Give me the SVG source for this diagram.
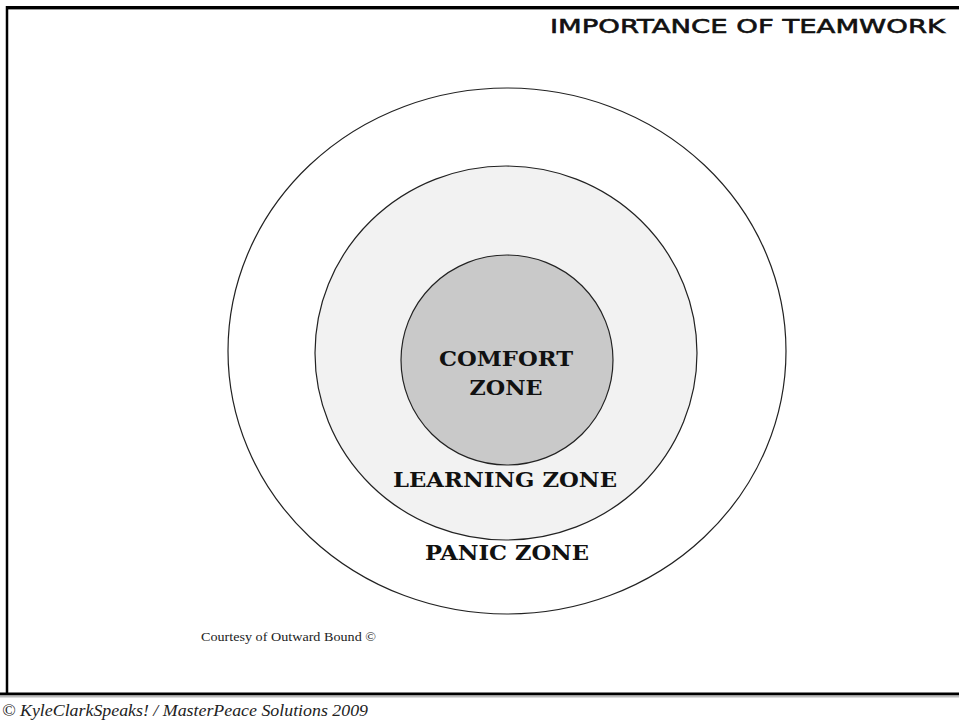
<svg xmlns="http://www.w3.org/2000/svg" width="959" height="723" viewBox="0 0 959 723">
<style>
.ring{stroke:#222;stroke-width:1.2}
.zone{font-family:"DejaVu Serif","Liberation Serif",serif;font-weight:bold;font-size:21px;fill:#111;text-anchor:middle}
.title{font-family:"DejaVu Sans","Liberation Sans",sans-serif;font-weight:normal;font-size:20px;fill:#111;stroke:#111;stroke-width:0.6}
.small{font-family:"Liberation Serif","DejaVu Serif",serif;fill:#222}
</style>
<rect width="959" height="723" fill="#fff"/>
<g id="frame">
<line x1="7" y1="7.5" x2="959" y2="7.5" stroke="#000" stroke-width="3"/>
<line x1="7" y1="9.5" x2="959" y2="9.5" stroke="#999" stroke-width="1"/>
<line x1="7" y1="6" x2="7" y2="695" stroke="#000" stroke-width="2.5"/>
<line x1="0" y1="694" x2="959" y2="694" stroke="#000" stroke-width="3"/>
<line x1="0" y1="696.5" x2="959" y2="696.5" stroke="#bbb" stroke-width="2"/>
</g>
<text id="title" class="title" x="550" y="33" textLength="395" lengthAdjust="spacingAndGlyphs">IMPORTANCE OF TEAMWORK</text>
<g id="panic-zone">
<ellipse class="ring" cx="507" cy="351" rx="279" ry="263" fill="#fff"/>
<text class="zone" x="507" y="560" textLength="164" lengthAdjust="spacingAndGlyphs">PANIC ZONE</text>
</g>
<g id="learning-zone">
<ellipse class="ring" cx="506" cy="353" rx="191" ry="187" fill="#f2f2f2"/>
<text class="zone" x="505" y="487" textLength="224" lengthAdjust="spacingAndGlyphs">LEARNING ZONE</text>
</g>
<g id="comfort-zone">
<ellipse class="ring" cx="507" cy="360" rx="106" ry="105" fill="#c9c9c9"/>
<text class="zone" x="506" y="366" textLength="134" lengthAdjust="spacingAndGlyphs">COMFORT</text>
<text class="zone" x="506" y="395" textLength="73" lengthAdjust="spacingAndGlyphs">ZONE</text>
</g>
<g id="connectors"/>
<text id="courtesy" class="small" x="201" y="641" font-size="13" textLength="175" lengthAdjust="spacingAndGlyphs">Courtesy of Outward Bound ©</text>
<text id="footer" class="small" x="2" y="716" font-size="16" font-style="italic" textLength="366" lengthAdjust="spacingAndGlyphs">© KyleClarkSpeaks! / MasterPeace Solutions 2009</text>
</svg>
